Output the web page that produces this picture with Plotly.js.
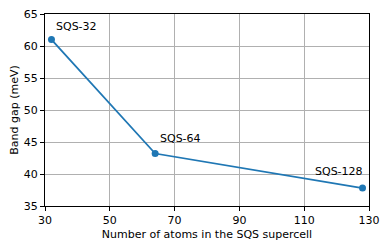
<!DOCTYPE html>
<html>
<head>
<meta charset="utf-8">
<script src="https://cdn.plot.ly/plotly-3.0.1.min.js"></script>
<style>html,body{margin:0;padding:0;background:#fff;}#chart{width:389px;height:249px;}</style>
</head>
<body>
<div id="chart"></div>
<script>
const atoms = [32, 64, 128];
const bandGap = [61.0, 43.2, 37.8];
const labels = ["SQS-32", "SQS-64", "SQS-128"];
const xTicks = [30, 50, 70, 90, 110, 130];
const yTicks = [35, 40, 45, 50, 55, 60, 65];

const font = {family: "DejaVu Sans", size: 11, color: "#000"};
const annShift = [
  {xanchor: "left", xshift: 3, yshift: 5},
  {xanchor: "left", xshift: 3, yshift: 7},
  {xanchor: "right", xshift: 2, yshift: 8}
];
const annotations = atoms.map((a, i) => Object.assign({
  x: a, y: bandGap[i], xref: "x", yref: "y", text: labels[i],
  showarrow: false, yanchor: "bottom", font: font
}, annShift[i]));

const axisCommon = {
  showgrid: true, gridcolor: "#b0b0b0", gridwidth: 1,
  showline: true, linecolor: "#000", linewidth: 1, mirror: true,
  ticks: "outside", ticklen: 4, tickcolor: "#000", tickwidth: 1,
  zeroline: false, tickfont: font
};

Plotly.newPlot("chart", [{
  x: atoms, y: bandGap, type: "scatter", mode: "lines+markers",
  line: {color: "#1f77b4", width: 1.8},
  marker: {color: "#1f77b4", size: 7}
}], {
  width: 389, height: 249,
  margin: {l: 45, r: 20, t: 14, b: 43},
  paper_bgcolor: "#fff", plot_bgcolor: "#fff",
  showlegend: false,
  xaxis: Object.assign({}, axisCommon, {
    range: [30, 130], tickvals: xTicks, ticktext: xTicks.map(String),
    title: {text: "Number of atoms in the SQS supercell", font: font, standoff: 4}
  }),
  yaxis: Object.assign({}, axisCommon, {
    range: [35, 65], tickvals: yTicks, ticktext: yTicks.map(String),
    title: {text: "Band gap (meV)", font: font, standoff: 2}
  }),
  annotations: annotations
}, {staticPlot: true, displayModeBar: false});
</script>
</body>
</html>
